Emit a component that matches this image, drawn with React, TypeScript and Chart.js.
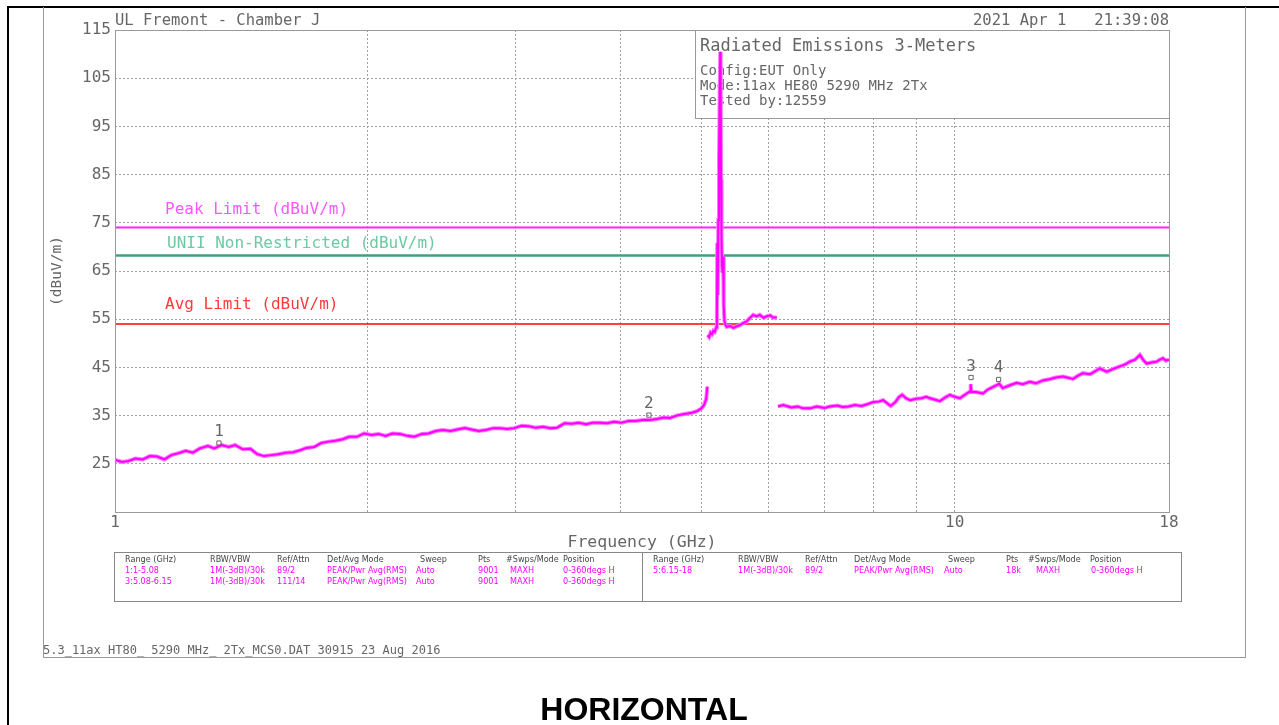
import React, { useEffect, useRef } from "react";
import { Chart, registerables } from "chart.js";

Chart.register(...registerables);

// ---------- data ----------
const SEG1_FREQ = [1.000,1.020,1.038,1.058,1.079,1.100,1.122,1.145,1.167,1.190,
1.214,1.238,1.262,1.290,1.313,1.340,1.366,1.390,1.420,1.450,
1.477,1.505,1.536,1.565,1.597,1.630,1.661,1.690,1.727,1.760,
1.796,1.830,1.868,1.900,1.942,1.980,2.020,2.060,2.101,2.140,
2.185,2.230,2.272,2.320,2.363,2.410,2.458,2.510,2.556,2.610,
2.658,2.710,2.764,2.820,2.874,2.930,2.989,3.050,3.109,3.170,
3.233,3.300,3.362,3.430,3.500,3.565,3.640,3.708,3.780,3.856,
3.930,4.010,4.090,4.170,4.250,4.336,4.420,4.500,4.580,4.664,
4.750,4.866,4.930,4.993,5.030,5.060,5.075];
const SEG1_DB = [25.8,25.4,25.6,26.1,25.9,26.6,26.5,25.9,26.8,27.2,
27.7,27.3,28.2,28.7,28.2,28.9,28.5,28.9,28.0,28.1,
27.0,26.6,26.8,27.0,27.3,27.4,27.8,28.3,28.5,29.3,
29.6,29.8,30.1,30.6,30.6,31.3,31.0,31.2,30.8,31.3,
31.2,30.8,30.6,31.2,31.3,31.8,32.0,31.8,32.1,32.4,
32.1,31.8,32.0,32.4,32.4,32.2,32.4,32.9,32.8,32.5,
32.7,32.4,32.5,33.4,33.3,33.5,33.2,33.5,33.5,33.4,
33.7,33.5,33.9,33.9,34.1,34.1,34.3,34.6,34.5,35.0,
35.3,35.6,35.9,36.5,37.2,38.5,41.0];

const SEG3_FREQ = [5.080,5.100,5.120,5.140,5.160,5.180,5.200,5.210,5.215,5.222,
5.230,5.240,5.250,5.258,5.264,5.270,5.276,5.284,5.292,5.300,
5.308,5.318,5.330,5.352,5.400,5.450,5.500,5.551,5.600,5.650,
5.700,5.757,5.810,5.860,5.920,5.972,6.030,6.080,6.140];
const SEG3_DB = [51.7,51.3,52.2,51.9,52.6,52.4,53.3,53.8,70.8,60.0,
75.6,88.0,102.0,110.5,104.0,84.0,72.0,66.0,64.6,68.0,
58.0,54.8,53.9,53.4,53.6,53.2,53.5,53.8,54.2,54.5,
55.2,55.9,55.6,55.9,55.3,55.6,55.8,55.3,55.4];

const SEG5_FREQ = [6.160,6.250,6.390,6.500,6.600,6.730,6.850,7.000,7.100,7.250,
7.350,7.480,7.600,7.750,7.880,8.000,8.120,8.220,8.320,8.390,
8.500,8.580,8.660,8.750,8.850,9.000,9.130,9.250,9.345,9.480,
9.605,9.750,9.872,10.000,10.146,10.300,10.430,10.450,10.470,10.600,
10.810,10.950,11.100,11.220,11.300,11.410,11.600,11.850,12.050,12.290,
12.500,12.740,13.000,13.200,13.460,13.830,14.000,14.210,14.500,14.700,
14.890,15.170,15.450,15.730,15.950,16.170,16.400,16.620,16.780,16.930,
17.150,17.400,17.550,17.700,17.850,18.000];
const SEG5_DB = [36.9,37.2,36.7,36.9,36.5,36.5,36.9,36.6,36.9,37.1,
36.8,36.9,37.2,37.0,37.4,37.8,37.9,38.2,37.5,37.0,
37.8,38.8,39.3,38.6,38.2,38.5,38.6,38.9,38.6,38.3,
38.0,38.8,39.3,38.9,38.6,39.4,40.0,41.5,39.9,39.9,
39.6,40.4,40.9,41.3,41.6,40.7,41.2,41.8,41.5,42.0,
41.7,42.3,42.6,42.9,43.1,42.6,43.2,43.8,43.6,44.2,
44.8,44.1,44.7,45.2,45.6,46.2,46.6,47.6,46.5,45.8,
46.0,46.2,46.6,46.9,46.4,46.6];

const LIMIT_NAMES = ["Peak Limit (dBuV/m)", "UNII Non-Restricted (dBuV/m)", "Avg Limit (dBuV/m)"];
const LIMIT_VALUES = [74, 68.2, 54];
const LIMIT_COLORS = ["#ff22ff", "#3f9f7f", "#ff0000"];
const LIMIT_LABEL_COLORS = ["#ff55ff", "#6cc9a3", "#ff3a3a"];
const LIMIT_WIDTHS = [2, 2.5, 1.5];

const MARKER_FREQ = [1.33, 4.324, 10.46, 11.28];
const MARKER_DB = [29.3, 35.1, 42.9, 42.5];
const MARKER_LABELS = ["1", "2", "3", "4"];

const X_GRID_TICKS = [1, 2, 3, 4, 5, 6, 7, 8, 9, 10, 18];
const X_TICK_LABELS = ["1", "", "", "", "", "", "", "", "", "10", "18"];
const Y_TICKS = [15, 25, 35, 45, 55, 65, 75, 85, 95, 105, 115];

const HEADER_LEFT = "UL Fremont - Chamber J";
const HEADER_RIGHT = "2021 Apr 1   21:39:08";
const INFO_TITLE = "Radiated Emissions 3-Meters";
const INFO_LINES = ["Config:EUT Only", "Mode:11ax HE80 5290 MHz 2Tx", "Tested by:12559"];
const FOOTER = "5.3_11ax HT80_ 5290 MHz_ 2Tx_MCS0.DAT 30915 23 Aug 2016";

const TABLE_HEADERS = ["Range (GHz)", "RBW/VBW", "Ref/Attn", "Det/Avg Mode", "Sweep", "Pts", "#Swps/Mode", "Position"];
const TABLE_LEFT_ROWS = [
  ["1:1-5.08", "1M(-3dB)/30k", "89/2", "PEAK/Pwr Avg(RMS)", "Auto", "9001", "MAXH", "0-360degs H"],
  ["3:5.08-6.15", "1M(-3dB)/30k", "111/14", "PEAK/Pwr Avg(RMS)", "Auto", "9001", "MAXH", "0-360degs H"],
];
const TABLE_RIGHT_ROWS = [
  ["5:6.15-18", "1M(-3dB)/30k", "89/2", "PEAK/Pwr Avg(RMS)", "Auto", "18k", "MAXH", "0-360degs H"],
];
const LEFT_HEAD_X = [125, 210, 277, 327, 420, 478, 506, 563];
const LEFT_VAL_X = [125, 210, 277, 327, 416, 478, 510, 563];
const RIGHT_HEAD_X = [653, 738, 805, 854, 948, 1006, 1028, 1090];
const RIGHT_VAL_X = [653, 738, 805, 854, 944, 1006, 1036, 1091];

// ---------- styles ----------
const MONO = '"DejaVu Sans Mono", monospace';
const NARROW = '"DejaVu Sans Condensed", "Liberation Sans Narrow", sans-serif';
const TEXT_GRAY = "#666";
const GRID_GRAY = "#a0a0a0";
const TRANSPARENT = "rgba(0,0,0,0)";

const pts = (f: number[], d: number[]) => f.map((v, i) => ({ x: v, y: d[i] }));

const decoPlugin = {
  id: "deco",
  beforeDatasetsDraw(chart: any) {
    const { ctx, chartArea: a } = chart;
    ctx.save();
    const bw = 474, bh = 88;
    const bx = a.right - bw;
    ctx.fillStyle = "#fff";
    ctx.fillRect(bx, a.top, bw, bh);
    ctx.strokeStyle = "#999";
    ctx.lineWidth = 1;
    ctx.strokeRect(Math.round(bx) + 0.5, Math.round(a.top) + 0.5, bw, bh);
    ctx.fillStyle = TEXT_GRAY;
    ctx.textAlign = "left";
    ctx.textBaseline = "alphabetic";
    ctx.font = `17px ${MONO}`;
    ctx.fillText(INFO_TITLE, bx + 5, a.top + 21);
    ctx.font = `14px ${MONO}`;
    INFO_LINES.forEach((t, i) => ctx.fillText(t, bx + 5, a.top + 45 + i * 15));
    ctx.restore();
  },
  afterDraw(chart: any) {
    const { ctx, chartArea: a, scales } = chart;
    const xs = scales.x, ys = scales.y;
    ctx.save();
    ctx.strokeStyle = "#999";
    ctx.lineWidth = 1;
    ctx.strokeRect(Math.round(a.left) + 0.5, Math.round(a.top) + 0.5, Math.round(a.right - a.left), Math.round(a.bottom - a.top));

    ctx.fillStyle = TEXT_GRAY;
    ctx.font = `15.5px ${MONO}`;
    ctx.textBaseline = "alphabetic";
    ctx.textAlign = "left";
    ctx.fillText(HEADER_LEFT, a.left, a.top - 5);
    ctx.textAlign = "right";
    ctx.fillText(HEADER_RIGHT, a.right, a.top - 5);

    const offs = [14, 8, 15];
    const lx = [a.left + 50, a.left + 52, a.left + 50];
    ctx.font = `16px ${MONO}`;
    ctx.textAlign = "left";
    LIMIT_NAMES.forEach((n, i) => {
      ctx.fillStyle = LIMIT_LABEL_COLORS[i];
      ctx.fillText(n, lx[i], ys.getPixelForValue(LIMIT_VALUES[i]) - offs[i]);
    });

    ctx.fillStyle = TEXT_GRAY;
    ctx.textAlign = "center";
    ctx.font = `16px ${MONO}`;
    MARKER_LABELS.forEach((m, i) => {
      ctx.fillText(m, xs.getPixelForValue(MARKER_FREQ[i]), ys.getPixelForValue(MARKER_DB[i]) - 7);
    });

    const tl = 114.5, tr = 1181.5, tt = 552.5, tb = 601.5, div = 642.5;
    ctx.strokeStyle = "#888";
    ctx.strokeRect(tl, tt, tr - tl, tb - tt);
    ctx.beginPath();
    ctx.moveTo(div, tt);
    ctx.lineTo(div, tb);
    ctx.stroke();
    ctx.textAlign = "left";
    ctx.font = `9px ${NARROW}`;
    ctx.fillStyle = "#444";
    TABLE_HEADERS.forEach((h, i) => {
      ctx.fillText(h, LEFT_HEAD_X[i], 562);
      ctx.fillText(h, RIGHT_HEAD_X[i], 562);
    });
    ctx.fillStyle = "#ff00ff";
    TABLE_LEFT_ROWS.forEach((r, j) => r.forEach((c, i) => ctx.fillText(c, LEFT_VAL_X[i], 572.5 + j * 11)));
    TABLE_RIGHT_ROWS.forEach((r, j) => r.forEach((c, i) => ctx.fillText(c, RIGHT_VAL_X[i], 572.5 + j * 11)));

    ctx.fillStyle = TEXT_GRAY;
    ctx.font = `12px ${MONO}`;
    ctx.fillText(FOOTER, 43, 654);
    ctx.restore();
  },
};

export default function App() {
  const ref = useRef<HTMLCanvasElement | null>(null);

  useEffect(() => {
    if (!ref.current) return;
    const traceSegs = [pts(SEG1_FREQ, SEG1_DB), pts(SEG3_FREQ, SEG3_DB), pts(SEG5_FREQ, SEG5_DB)];
    const datasets: any[] = [];
    LIMIT_VALUES.forEach((v, i) => {
      datasets.push({
        data: [{ x: 1, y: v }, { x: 18, y: v }],
        borderColor: LIMIT_COLORS[i],
        borderWidth: LIMIT_WIDTHS[i],
        pointRadius: 0,
        order: 5,
      });
    });
    traceSegs.forEach((d) => {
      datasets.push({ data: d, borderColor: "#ff77ff", borderWidth: 4, pointRadius: 0, order: 3 });
      datasets.push({ data: d, borderColor: "#ff00ff", borderWidth: 2, pointRadius: 0, order: 2 });
    });
    datasets.push({
      data: pts(MARKER_FREQ, MARKER_DB),
      showLine: false,
      pointStyle: "rect",
      pointRadius: 3,
      borderColor: "#666",
      backgroundColor: TRANSPARENT,
      borderWidth: 1,
      order: 1,
    });

    const chart = new Chart(ref.current, {
      type: "line",
      data: { datasets },
      options: {
        responsive: false,
        animation: false,
        events: [],
        layout: { padding: { left: 45, right: 110, top: 30, bottom: 171 } },
        plugins: { legend: { display: false }, tooltip: { enabled: false } },
        scales: {
          x: {
            type: "logarithmic",
            min: 1,
            max: 18,
            afterBuildTicks: (s: any) => {
              s.ticks = X_GRID_TICKS.map((v) => ({ value: v }));
            },
            afterFit: (s: any) => {
              s.height = 42;
            },
            grid: {
              drawTicks: false,
              lineWidth: 1,
              color: (c: any) => (c.tick && (c.tick.value === 1 || c.tick.value === 18) ? TRANSPARENT : GRID_GRAY),
            },
            border: { display: false, dash: [2, 2] },
            ticks: {
              autoSkip: false,
              maxRotation: 0,
              padding: 1,
              color: TEXT_GRAY,
              font: { family: MONO, size: 16 },
              callback: (v: any) => {
                const i = X_GRID_TICKS.indexOf(Number(v));
                return i >= 0 ? X_TICK_LABELS[i] : "";
              },
            },
            title: {
              display: true,
              text: "Frequency (GHz)",
              color: TEXT_GRAY,
              font: { family: MONO, size: 16.5 },
              padding: { top: 0, bottom: 1 },
            },
          },
          y: {
            type: "linear",
            min: 15,
            max: 115,
            afterBuildTicks: (s: any) => {
              s.ticks = Y_TICKS.map((v) => ({ value: v }));
            },
            afterFit: (s: any) => {
              s.width = 70;
            },
            grid: {
              drawTicks: false,
              lineWidth: 1,
              color: (c: any) => (c.tick && (c.tick.value === 15 || c.tick.value === 115) ? TRANSPARENT : GRID_GRAY),
            },
            border: { display: false, dash: [2, 2] },
            ticks: {
              padding: 4,
              color: TEXT_GRAY,
              font: { family: MONO, size: 16 },
              callback: (v: any) => (Number(v) === 15 ? "" : String(v)),
            },
            title: {
              display: true,
              text: "(dBuV/m)",
              color: TEXT_GRAY,
              font: { family: MONO, size: 14.5 },
              padding: { top: 4, bottom: 0 },
            },
          },
        },
      },
      plugins: [decoPlugin],
    } as any);
    return () => chart.destroy();
  }, []);

  return (
    <>
      <div
        style={{
          position: "absolute",
          left: 7,
          top: 6,
          width: 1272,
          height: 719,
          borderLeft: "2px solid #000",
          borderTop: "2px solid #000",
          boxSizing: "border-box",
        }}
      />
      <div
        style={{
          position: "absolute",
          left: 43,
          top: 7,
          width: 1203,
          height: 651,
          borderLeft: "1px solid #999",
          borderRight: "1px solid #999",
          borderBottom: "1px solid #999",
          boxSizing: "border-box",
        }}
      />
      <canvas
        ref={ref}
        width={1279}
        height={725}
        style={{ position: "absolute", left: 0, top: 0, width: 1279, height: 725 }}
      />
      <div
        style={{
          position: "absolute",
          left: 444,
          top: 693,
          width: 400,
          textAlign: "center",
          fontFamily: '"Liberation Sans", Arial, sans-serif',
          fontWeight: "bold",
          fontSize: 32,
          lineHeight: "32px",
          color: "#000",
        }}
      >
        HORIZONTAL
      </div>
    </>
  );
}
